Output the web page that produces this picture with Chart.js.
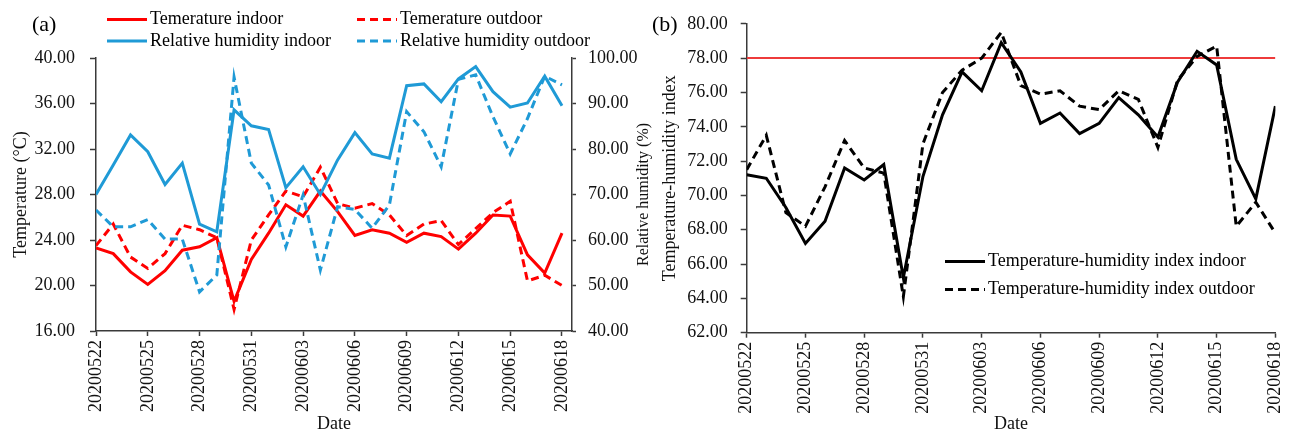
<!doctype html>
<html lang="en">
<head>
<meta charset="utf-8">
<title>Temperature, humidity and THI</title>
<script src="https://cdn.jsdelivr.net/npm/chart.js@4.4.0/dist/chart.umd.min.js"></script>
<style>
  body { margin: 0; background: #fff; }
  #wrap { position: relative; width: 1301px; height: 437px; }
  canvas { position: absolute; top: 0; }
  #chartA { left: 0; }
  #chartB { left: 640px; }
</style>
</head>
<body>
<div id="wrap">
  <canvas id="chartA" width="660" height="437"></canvas>
  <canvas id="chartB" width="661" height="437"></canvas>
</div>
<script>
// dates, one per day
var dates = ['20200522','20200523','20200524','20200525','20200526','20200527','20200528',
  '20200529','20200530','20200531','20200601','20200602','20200603','20200604','20200605',
  '20200606','20200607','20200608','20200609','20200610','20200611','20200612','20200613',
  '20200614','20200615','20200616','20200617','20200618'];
var tickDays = [0, 3, 6, 9, 12, 15, 18, 21, 24, 27];

// (a) temperature (C) and relative humidity (%)
var tempIn  = [23.3, 22.8, 21.2, 20.1, 21.3, 23.1, 23.4, 24.2, 18.6, 22.3, 24.6, 27.1, 26.1, 28.3,
               26.5, 24.4, 24.9, 24.6, 23.8, 24.6, 24.3, 23.2, 24.6, 26.2, 26.1, 22.7, 21.1, 24.6];
var tempOut = [23.5, 25.4, 22.5, 21.5, 22.8, 25.3, 24.9, 24.2, 17.9, 24.0, 26.2, 28.3, 27.8, 30.4,
               27.2, 26.8, 27.2, 26.2, 24.4, 25.4, 25.7, 23.6, 25.0, 26.4, 27.4, 20.4, 20.9, 20.0];
var rhIn    = [70.0, 76.5, 83.1, 79.4, 72.2, 76.9, 63.5, 61.8, 88.6, 85.1, 84.3, 71.5, 76.1, 70.0,
               77.6, 83.6, 78.9, 78.0, 93.9, 94.3, 90.4, 95.4, 98.1, 92.6, 89.2, 90.1, 96.0, 89.5];
var rhOut   = [66.6, 62.9, 62.9, 64.5, 60.2, 60.2, 48.6, 52.3, 95.8, 76.9, 72.1, 58.5, 69.9, 53.4,
               67.3, 66.7, 62.6, 67.7, 88.2, 83.8, 76.1, 95.3, 96.3, 87.1, 78.9, 86.7, 96.0, 94.1];

// (b) temperature-humidity index
var thiIn  = [71.2, 71.0, 69.3, 67.2, 68.5, 71.6, 70.9, 71.8, 65.2, 71.1, 74.7, 77.2, 76.1, 78.9,
              77.2, 74.2, 74.8, 73.6, 74.2, 75.7, 74.7, 73.4, 76.6, 78.4, 77.6, 72.1, 69.8, 75.2];
var thiOut = [71.5, 73.5, 69.0, 68.2, 70.5, 73.2, 71.6, 71.3, 64.1, 73.0, 76.0, 77.3, 78.0, 79.5,
              76.4, 75.9, 76.1, 75.2, 75.0, 76.1, 75.6, 72.8, 76.7, 78.1, 78.7, 68.2, 69.6, 67.8];
var thiLimit = 78;

var RED = '#ff0000', BLUE = '#1f9ad6', BLACK = '#000000';
var AXIS = '#3a3a3a';
var SERIF = '"Liberation Serif", "Times New Roman", serif';

function pts(arr) {
  return arr.map(function (v, i) { return { x: i, y: v }; });
}

// little line legend + panel tag, drawn at fixed spots
var keyPlugin = {
  id: 'lineKey',
  afterDraw: function (chart, args, opts) {
    var ctx = chart.ctx;
    ctx.save();
    ctx.font = '18px ' + SERIF;
    ctx.textBaseline = 'middle';
    ctx.textAlign = 'left';
    ctx.fillStyle = '#000';
    opts.items.forEach(function (it) {
      var ds = chart.data.datasets[it.ds];
      ctx.strokeStyle = ds.borderColor;
      ctx.lineWidth = ds.borderWidth;
      ctx.setLineDash(ds.borderDash || []);
      ctx.beginPath();
      ctx.moveTo(it.x, it.y);
      ctx.lineTo(it.x + 40, it.y);
      ctx.stroke();
      ctx.setLineDash([]);
      ctx.fillText(ds.label, it.x + 43, it.y);
    });
    ctx.font = '22px ' + SERIF;
    ctx.fillText(opts.tag, opts.tagX, 25);
    // right-hand axis title, reading bottom to top
    if (opts.rightTitle) {
      var ca = chart.chartArea;
      ctx.font = '16px ' + SERIF;
      ctx.fillStyle = '#111';
      ctx.translate(opts.rightTitleX, (ca.top + ca.bottom) / 2);
      ctx.rotate(-Math.PI / 2);
      ctx.textAlign = 'center';
      ctx.fillText(opts.rightTitle, 0, 0);
    }
    ctx.restore();
  }
};

function xScale(max, height) {
  return {
    type: 'linear', min: 0, max: max,
    afterBuildTicks: function (s) { s.ticks = tickDays.map(function (v) { return { value: v }; }); },
    afterFit: function (s) { s.height = height; },
    border: { color: AXIS, width: 1.5 },
    grid: { drawOnChartArea: false, tickLength: 5, tickColor: AXIS, tickWidth: 1.5 },
    ticks: {
      autoSkip: false, minRotation: 90, maxRotation: 90, padding: 4,
      color: '#111', font: { family: SERIF, size: 18 },
      callback: function (v) { return dates[v]; }
    },
    title: { display: true, text: 'Date', color: '#111', font: { family: SERIF, size: 18 },
             padding: { top: 0, bottom: 2 } }
  };
}

function yScale(pos, min, max, step, width, tickLen, pad, title) {
  return {
    position: pos, min: min, max: max,
    afterFit: function (s) { s.width = width; },
    border: { color: AXIS, width: 1.5 },
    grid: { drawOnChartArea: false, tickLength: tickLen, tickColor: AXIS, tickWidth: 1.5 },
    ticks: {
      stepSize: step, padding: pad, color: '#111', font: { family: SERIF, size: 18 },
      callback: function (v) { return v.toFixed(2); }
    },
    title: { display: !!title, text: title, color: '#111', font: { family: SERIF, size: 18 },
             padding: { top: 4, bottom: 0 } }
  };
}

new Chart(document.getElementById('chartA'), {
  type: 'line',
  data: {
    datasets: [
      { label: 'Temerature indoor', data: pts(tempIn), borderColor: RED, borderWidth: 3, yAxisID: 'y', order: 4 },
      { label: 'Temerature outdoor', data: pts(tempOut), borderColor: RED, borderWidth: 3, borderDash: [8, 5], yAxisID: 'y', order: 3 },
      { label: 'Relative humidity indoor', data: pts(rhIn), borderColor: BLUE, borderWidth: 3, yAxisID: 'y1', order: 2 },
      { label: 'Relative humidity outdoor', data: pts(rhOut), borderColor: BLUE, borderWidth: 3, borderDash: [8, 5], yAxisID: 'y1', order: 1 }
    ]
  },
  options: {
    responsive: false,
    animation: false,
    layout: { padding: { left: 6, top: 58, right: 0, bottom: 0 } },
    elements: { point: { radius: 0 }, line: { tension: 0 } },
    plugins: {
      legend: { display: false },
      tooltip: { enabled: false },
      lineKey: {
        tag: '(a)', tagX: 32,
        rightTitle: 'Relative humidity (%)', rightTitleX: 644,
        items: [
          { ds: 0, x: 107, y: 19.5 }, { ds: 1, x: 357, y: 19.5 },
          { ds: 2, x: 107, y: 41 },   { ds: 3, x: 357, y: 41 }
        ]
      }
    },
    scales: {
      x: xScale(27.58, 106),
      y: yScale('left', 16, 40, 4, 90, 6, 15, 'Temperature (\u00b0C)'),
      y1: yScale('right', 40, 100, 10, 88, 4, 12, '')
    }
  },
  plugins: [keyPlugin]
});

new Chart(document.getElementById('chartB'), {
  type: 'line',
  data: {
    datasets: [
      { label: 'Temperature-humidity index indoor', data: pts(thiIn), borderColor: BLACK, borderWidth: 3, order: 2 },
      { label: 'Temperature-humidity index outdoor', data: pts(thiOut), borderColor: BLACK, borderWidth: 3, borderDash: [8, 5], order: 1 },
      { label: 'limit', data: [{ x: 0, y: thiLimit }, { x: 27, y: thiLimit }], borderColor: '#ee3b3b', borderWidth: 2, order: 3 }
    ]
  },
  options: {
    responsive: false,
    animation: false,
    layout: { padding: { left: 15, top: 21.7, right: 14.3, bottom: 0 } },
    elements: { point: { radius: 0 }, line: { tension: 0 } },
    plugins: {
      legend: { display: false },
      tooltip: { enabled: false },
      lineKey: {
        tag: '(b)', tagX: 12,
        items: [ { ds: 0, x: 305, y: 261.5 }, { ds: 1, x: 305, y: 289.5 } ]
      }
    },
    scales: {
      x: xScale(27, 104.3),
      y: yScale('left', 62, 80, 2, 91.7, 6, 13, 'Temperature-humidity index')
    }
  },
  plugins: [keyPlugin]
});
</script>
</body>
</html>
